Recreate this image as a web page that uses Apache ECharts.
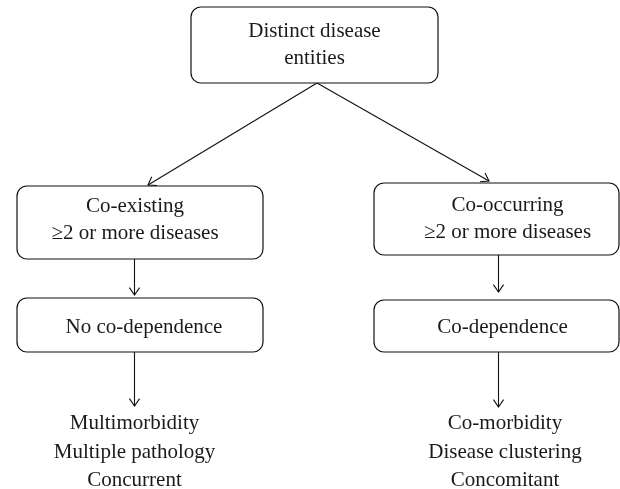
<!DOCTYPE html>
<html>
<head>
<meta charset="utf-8">
<script src="https://cdn.jsdelivr.net/npm/echarts@6/dist/echarts.min.js"></script>
<style>html,body{margin:0;padding:0;background:#fff}#c{width:620px;height:489px}</style>
</head>
<body>
<div id="c"></div>
<script>
// ---- content ----
const boxLabels = [
  "Distinct disease\nentities",
  "Co-existing\n\u22652 or more diseases",
  "Co-occurring\n\u22652 or more diseases",
  "No co-dependence",
  "Co-dependence"
];
const leafLabels = [
  "Multimorbidity\nMultiple pathology\nConcurrent",
  "Co-morbidity\nDisease clustering\nConcomitant"
];
const links = [[0, 1], [0, 2], [1, 3], [2, 4], [3, 5], [4, 6]];

// ---- layout (diagram geometry, in pixel-like axis units) ----
const nodeLayout = [
  { x: 314.5, y: 45,    w: 247, h: 76, tx: 0,  ty: 0 },
  { x: 140,   y: 222.5, w: 246, h: 73, tx: -5, ty: -3 },
  { x: 496.5, y: 219,   w: 245, h: 72, tx: 11, ty: 0 },
  { x: 140,   y: 325,   w: 246, h: 54, tx: 4,  ty: 2 },
  { x: 496.5, y: 326,   w: 245, h: 52, tx: 6,  ty: 1 }
];
const leafLayout = [ { x: 134.5, y: 452 }, { x: 505, y: 452 } ];
const edgeLayout = [
  [317, 83, 148, 185],
  [317, 83, 489, 181],
  [134.5, 259, 134.5, 295],
  [498.5, 255, 498.5, 292],
  [134.5, 352, 134.5, 406],
  [498.5, 352, 498.5, 407]
];

const FONT = '21px "Liberation Serif", "Times New Roman", serif';
const chart = echarts.init(document.getElementById('c'), null, { renderer: 'canvas' });

chart.setOption({
  animation: false,
  backgroundColor: '#fff',
  grid: { left: 0, right: 0, top: 0, bottom: 0 },
  xAxis: { type: 'value', min: 0, max: 620, show: false },
  yAxis: { type: 'value', min: 0, max: 489, inverse: true, show: false },
  series: [
    {
      type: 'custom',
      name: 'edges',
      clip: false,
      z: 1,
      data: links.map((l, i) => edgeLayout[i].concat([i])),
      renderItem: function (params, api) {
        const p1 = api.coord([api.value(0), api.value(1)]);
        const p2 = api.coord([api.value(2), api.value(3)]);
        const a = Math.atan2(p2[1] - p1[1], p2[0] - p1[0]);
        const L = 9, th = 0.6;
        const w1 = [p2[0] - L * Math.cos(a - th), p2[1] - L * Math.sin(a - th)];
        const w2 = [p2[0] - L * Math.cos(a + th), p2[1] - L * Math.sin(a + th)];
        return {
          type: 'group',
          children: [
            { type: 'line', shape: { x1: p1[0], y1: p1[1], x2: p2[0], y2: p2[1] },
              style: { stroke: '#111', lineWidth: 1.1 } },
            { type: 'polyline', shape: { points: [w1, p2, w2] },
              style: { stroke: '#111', lineWidth: 1.1, fill: null } }
          ]
        };
      }
    },
    {
      type: 'custom',
      name: 'boxes',
      clip: false,
      z: 2,
      data: nodeLayout.map((n, i) => [n.x, n.y, n.w, n.h, n.tx, n.ty, i]),
      renderItem: function (params, api) {
        const c = api.coord([api.value(0), api.value(1)]);
        const s = api.size([api.value(2), api.value(3)]);
        const w = Math.abs(s[0]), h = Math.abs(s[1]);
        const idx = api.value(6);
        return {
          type: 'group',
          children: [
            { type: 'rect',
              shape: { x: c[0] - w / 2, y: c[1] - h / 2, width: w, height: h, r: 10 },
              style: { fill: '#fff', stroke: '#111', lineWidth: 1.2 } },
            { type: 'text', x: c[0] + api.value(4), y: c[1] + api.value(5),
              style: { text: boxLabels[idx], font: FONT, fill: '#1a1a1a',
                       align: 'center', verticalAlign: 'middle', lineHeight: 27 } }
          ]
        };
      }
    },
    {
      type: 'custom',
      name: 'leaves',
      clip: false,
      z: 2,
      data: leafLayout.map((n, i) => [n.x, n.y, i]),
      renderItem: function (params, api) {
        const c = api.coord([api.value(0), api.value(1)]);
        return {
          type: 'text', x: c[0], y: c[1],
          style: { text: leafLabels[api.value(2)], font: FONT, fill: '#1a1a1a',
                   align: 'center', verticalAlign: 'middle', lineHeight: 28.5 }
        };
      }
    }
  ]
});
</script>
</body>
</html>
